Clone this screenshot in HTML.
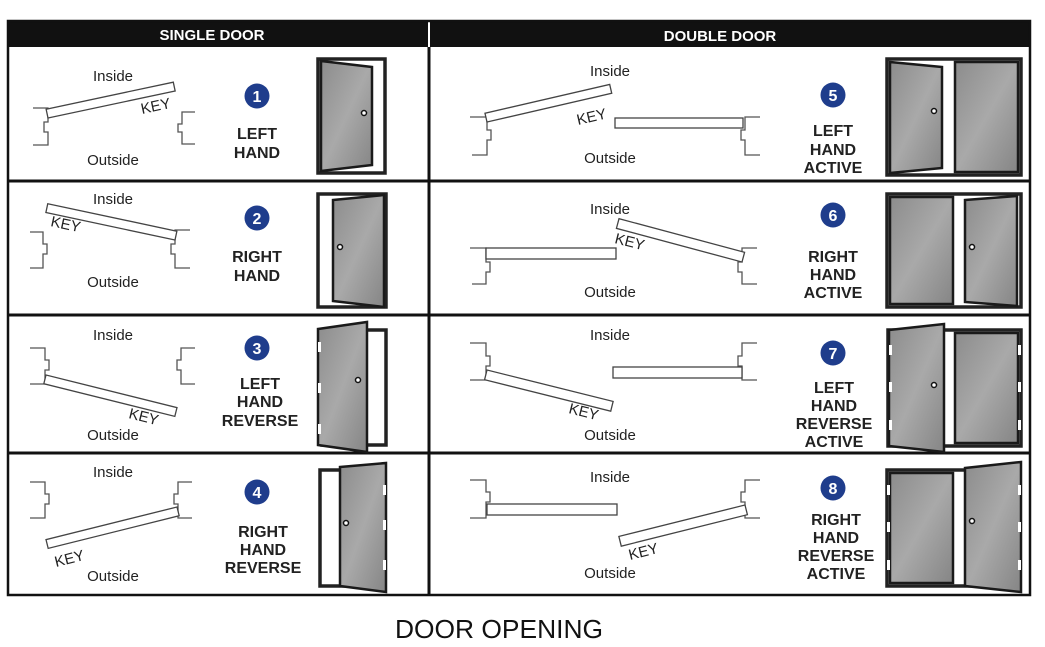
<!DOCTYPE html>
<html><head><meta charset="utf-8"><style>
html,body{margin:0;padding:0;background:#fff;}
svg{display:block;}
text{font-family:"Liberation Sans",sans-serif;}
.l{font-size:15px;fill:#222;text-anchor:middle;}
.b{font-size:16px;font-weight:bold;fill:#222;text-anchor:middle;}
.k{font-size:15px;fill:#222;}
.n{font-size:16px;font-weight:bold;fill:#fff;text-anchor:middle;}
.j{fill:none;stroke:#555;stroke-width:1.3;}
.lf{fill:#fff;stroke:#444;stroke-width:1.3;}
.fr{fill:#fff;stroke:#222;stroke-width:3.5;}
.dp{fill:url(#g);stroke:#1a1a1a;stroke-width:2.5;}
.h{fill:#fff;}
</style></head><body>
<svg width="1045" height="647" viewBox="0 0 1045 647" xmlns="http://www.w3.org/2000/svg">
<defs><linearGradient id="g" x1="0" y1="0" x2="1" y2="1"><stop offset="0" stop-color="#8c8c8c"/><stop offset="0.5" stop-color="#a9a9a9"/><stop offset="1" stop-color="#858585"/></linearGradient></defs>
<!-- table -->
<rect x="7" y="20" width="1024" height="27" fill="#111"/>
<rect x="428" y="20" width="2" height="27" fill="#fff"/>
<text x="212" y="40" font-size="15" font-weight="bold" fill="#fff" text-anchor="middle">SINGLE DOOR</text>
<text x="720" y="41" font-size="15" font-weight="bold" fill="#fff" text-anchor="middle">DOUBLE DOOR</text>
<rect x="8" y="21" width="1022" height="574" fill="none" stroke="#111" stroke-width="2.5"/>
<line x1="429" y1="47" x2="429" y2="596" stroke="#111" stroke-width="3"/>
<line x1="7" y1="181" x2="1031" y2="181" stroke="#111" stroke-width="3"/>
<line x1="7" y1="315" x2="1031" y2="315" stroke="#111" stroke-width="3"/>
<line x1="7" y1="453" x2="1031" y2="453" stroke="#111" stroke-width="3"/>

<!-- Row1 left -->
<text class="l" x="113" y="81">Inside</text><text class="l" x="113" y="165">Outside</text>
<path class="j" d="M33,108 H48 V122 H44 V132 H48 V145 H33"/>
<path class="j" d="M195,112 H182 V124 H178 V132 H182 V144 H195"/>
<rect class="lf" x="0" y="-9" width="130" height="9" transform="translate(48,118) rotate(-12)"/>
<text class="k" transform="translate(142,114) rotate(-12)">KEY</text>
<circle cx="257" cy="96" r="12.5" fill="#1f3d8c"/><text class="n" x="257" y="102">1</text>
<text class="b" x="257" y="139">LEFT</text><text class="b" x="257" y="158">HAND</text>
<rect class="fr" x="318" y="59" width="67" height="114"/>
<polygon class="dp" points="321,61 372,67 372,165 321,171"/><circle cx="364" cy="113" r="2.5" fill="#fff" stroke="#111" stroke-width="1.5"/>

<!-- Row2 left -->
<text class="l" x="113" y="204">Inside</text><text class="l" x="113" y="287">Outside</text>
<path class="j" d="M30,232 H43 V244 H47 V254 H43 V268 H30"/>
<path class="j" d="M190,230 H175 V244 H171 V254 H175 V268 H190"/>
<rect class="lf" x="-132" y="-9" width="132" height="9" transform="translate(175,240) rotate(12)"/>
<text class="k" transform="translate(50,226) rotate(12)">KEY</text>
<circle cx="257" cy="218" r="12.5" fill="#1f3d8c"/><text class="n" x="257" y="224">2</text>
<text class="b" x="257" y="262">RIGHT</text><text class="b" x="257" y="281">HAND</text>
<rect class="fr" x="318" y="194" width="68" height="113"/>
<polygon class="dp" points="333,200 384,195 384,307 333,301"/><circle cx="340" cy="247" r="2.5" fill="#fff" stroke="#111" stroke-width="1.5"/>

<!-- Row3 left -->
<text class="l" x="113" y="340">Inside</text><text class="l" x="113" y="440">Outside</text>
<path class="j" d="M30,348 H45 V360 H49 V370 H45 V384 H30"/>
<path class="j" d="M195,348 H181 V360 H177 V370 H181 V384 H195"/>
<rect class="lf" x="0" y="0" width="135" height="9" transform="translate(46,375) rotate(14)"/>
<text class="k" transform="translate(128,418) rotate(14)">KEY</text>
<circle cx="257" cy="348" r="12.5" fill="#1f3d8c"/><text class="n" x="257" y="354">3</text>
<text class="b" x="260" y="389">LEFT</text><text class="b" x="260" y="407">HAND</text><text class="b" x="260" y="426">REVERSE</text>
<rect class="fr" x="322" y="330" width="64" height="115"/>
<polygon class="dp" points="318,329 367,322 367,452 318,445"/><circle cx="358" cy="380" r="2.5" fill="#fff" stroke="#111" stroke-width="1.5"/>
<rect class="h" x="318" y="342" width="3" height="10"/><rect class="h" x="318" y="383" width="3" height="10"/><rect class="h" x="318" y="424" width="3" height="10"/>

<!-- Row4 left -->
<text class="l" x="113" y="477">Inside</text><text class="l" x="113" y="581">Outside</text>
<path class="j" d="M30,482 H45 V494 H49 V504 H45 V518 H30"/>
<path class="j" d="M192,482 H178 V494 H174 V504 H178 V518 H192"/>
<rect class="lf" x="-135" y="0" width="135" height="9" transform="translate(177,507) rotate(-14)"/>
<text class="k" transform="translate(56,567) rotate(-14)">KEY</text>
<circle cx="257" cy="492" r="12.5" fill="#1f3d8c"/><text class="n" x="257" y="498">4</text>
<text class="b" x="263" y="537">RIGHT</text><text class="b" x="263" y="555">HAND</text><text class="b" x="263" y="573">REVERSE</text>
<rect class="fr" x="320" y="470" width="65" height="116"/>
<polygon class="dp" points="340,467 386,463 386,592 340,586"/><circle cx="346" cy="523" r="2.5" fill="#fff" stroke="#111" stroke-width="1.5"/>
<rect class="h" x="383" y="485" width="3" height="10"/><rect class="h" x="383" y="520" width="3" height="10"/><rect class="h" x="383" y="560" width="3" height="10"/>

<!-- Row5 right -->
<text class="l" x="610" y="76">Inside</text><text class="l" x="610" y="163">Outside</text>
<path class="j" d="M470,117 H487 V130 H491 V140 H487 V155 H472"/>
<path class="j" d="M760,117 H745 V130 H741 V140 H745 V155 H760"/>
<rect class="lf" x="0" y="-9" width="128" height="9" transform="translate(487,122) rotate(-13)"/>
<rect class="lf" x="615" y="118" width="128" height="10"/>
<text class="k" transform="translate(578,125) rotate(-13)">KEY</text>
<circle cx="833" cy="95" r="12.5" fill="#1f3d8c"/><text class="n" x="833" y="101">5</text>
<text class="b" x="833" y="136">LEFT</text><text class="b" x="833" y="155">HAND</text><text class="b" x="833" y="173">ACTIVE</text>
<rect class="fr" x="887" y="59" width="134" height="116"/>
<rect class="dp" x="955" y="62" width="63" height="110"/>
<polygon class="dp" points="890,62 942,67 942,168 890,173"/><circle cx="934" cy="111" r="2.5" fill="#fff" stroke="#111" stroke-width="1.5"/>

<!-- Row6 right -->
<text class="l" x="610" y="214">Inside</text><text class="l" x="610" y="297">Outside</text>
<path class="j" d="M470,248 H486 V262 H490 V272 H486 V284 H472"/>
<path class="j" d="M757,248 H742 V262 H738 V272 H742 V284 H757"/>
<rect class="lf" x="486" y="248" width="130" height="11"/>
<rect class="lf" x="-130" y="-10" width="130" height="10" transform="translate(742,262) rotate(15)"/>
<text class="k" transform="translate(614,243) rotate(14)">KEY</text>
<circle cx="833" cy="215" r="12.5" fill="#1f3d8c"/><text class="n" x="833" y="221">6</text>
<text class="b" x="833" y="262">RIGHT</text><text class="b" x="833" y="280">HAND</text><text class="b" x="833" y="298">ACTIVE</text>
<rect class="fr" x="887" y="194" width="134" height="113"/>
<rect class="dp" x="890" y="197" width="63" height="107"/>
<polygon class="dp" points="965,200 1017,196 1017,306 965,302"/><circle cx="972" cy="247" r="2.5" fill="#fff" stroke="#111" stroke-width="1.5"/>

<!-- Row7 right -->
<text class="l" x="610" y="340">Inside</text><text class="l" x="610" y="440">Outside</text>
<path class="j" d="M470,343 H486 V356 H490 V366 H486 V380 H470"/>
<path class="j" d="M757,343 H742 V356 H738 V366 H742 V380 H757"/>
<rect class="lf" x="0" y="0" width="130" height="10" transform="translate(487,370) rotate(14)"/>
<rect class="lf" x="613" y="367" width="129" height="11"/>
<text class="k" transform="translate(568,413) rotate(14)">KEY</text>
<circle cx="833" cy="353" r="12.5" fill="#1f3d8c"/><text class="n" x="833" y="359">7</text>
<text class="b" x="834" y="393">LEFT</text><text class="b" x="834" y="411">HAND</text><text class="b" x="834" y="429">REVERSE</text><text class="b" x="834" y="447">ACTIVE</text>
<rect class="fr" x="888" y="330" width="133" height="116"/>
<rect class="dp" x="955" y="333" width="63" height="110"/>
<polygon class="dp" points="889,330 944,324 944,452 889,446"/><circle cx="934" cy="385" r="2.5" fill="#fff" stroke="#111" stroke-width="1.5"/>
<rect class="h" x="889" y="345" width="3" height="10"/><rect class="h" x="889" y="382" width="3" height="10"/><rect class="h" x="889" y="420" width="3" height="10"/>
<rect class="h" x="1018" y="345" width="3" height="10"/><rect class="h" x="1018" y="382" width="3" height="10"/><rect class="h" x="1018" y="420" width="3" height="10"/>

<!-- Row8 right -->
<text class="l" x="610" y="482">Inside</text><text class="l" x="610" y="578">Outside</text>
<path class="j" d="M470,480 H486 V492 H490 V502 H486 V518 H470"/>
<path class="j" d="M760,480 H745 V492 H741 V502 H745 V518 H760"/>
<rect class="lf" x="487" y="504" width="130" height="11"/>
<rect class="lf" x="-130" y="0" width="130" height="10" transform="translate(745,505) rotate(-14)"/>
<text class="k" transform="translate(630,560) rotate(-14)">KEY</text>
<circle cx="833" cy="488" r="12.5" fill="#1f3d8c"/><text class="n" x="833" y="494">8</text>
<text class="b" x="836" y="525">RIGHT</text><text class="b" x="836" y="543">HAND</text><text class="b" x="836" y="561">REVERSE</text><text class="b" x="836" y="579">ACTIVE</text>
<rect class="fr" x="887" y="470" width="133" height="116"/>
<rect class="dp" x="890" y="473" width="63" height="110"/>
<polygon class="dp" points="965,468 1021,462 1021,592 965,586"/><circle cx="972" cy="521" r="2.5" fill="#fff" stroke="#111" stroke-width="1.5"/>
<rect class="h" x="887" y="485" width="3" height="10"/><rect class="h" x="887" y="522" width="3" height="10"/><rect class="h" x="887" y="560" width="3" height="10"/>
<rect class="h" x="1018" y="485" width="3" height="10"/><rect class="h" x="1018" y="522" width="3" height="10"/><rect class="h" x="1018" y="560" width="3" height="10"/>

<text x="499" y="638" font-size="26" fill="#111" text-anchor="middle" textLength="208" lengthAdjust="spacingAndGlyphs">DOOR OPENING</text>
</svg>
</body></html>
